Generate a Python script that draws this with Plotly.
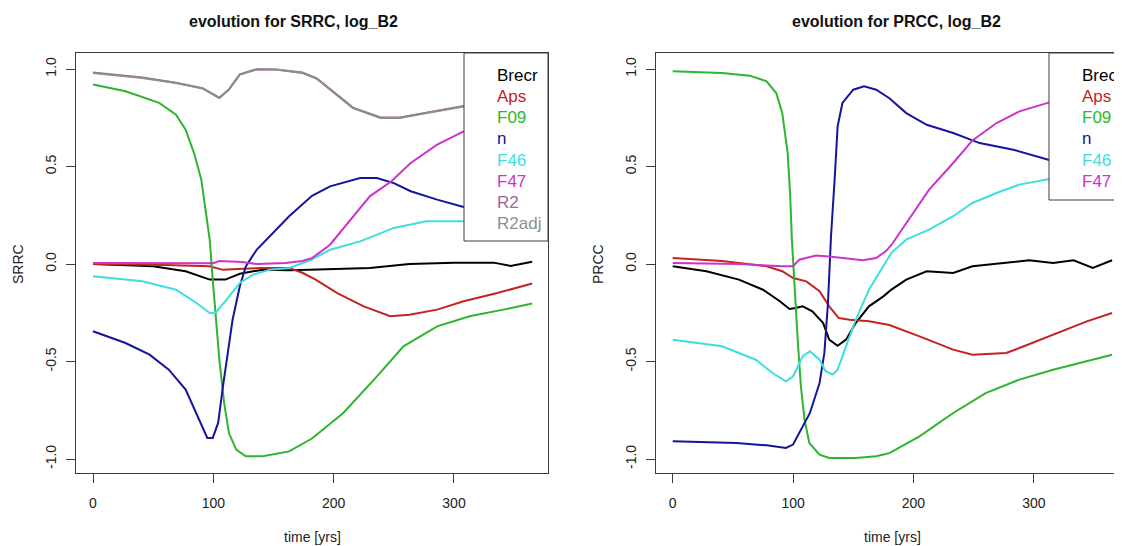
import plotly.graph_objects as go

# page body has an 8px margin: work in reference pixel coords and shift by 8
OFF = 8
W, H = 1122, 546 - OFF

# ---------------- data: SRRC (left panel) ----------------
srrc_brecr_t = [0, 50, 77, 97, 110, 122, 141, 163, 180, 200, 230, 263, 300, 333, 347, 365]
srrc_brecr_v = [0.0, -0.012, -0.037, -0.08, -0.08, -0.05, -0.029, -0.032, -0.029, -0.025, -0.021, 0.0, 0.007, 0.007, -0.01, 0.012]

srrc_aps_t = [0, 60, 97, 108, 120, 141, 163, 174, 185, 203, 225, 247, 263, 286, 308, 336, 365]
srrc_aps_v = [0.0, -0.005, -0.012, -0.03, -0.025, -0.02, -0.02, -0.045, -0.08, -0.149, -0.217, -0.268, -0.26, -0.234, -0.191, -0.149, -0.10]

srrc_f09_t = [0, 27, 55, 69, 77, 84, 90, 94, 97, 99.5, 102, 105, 109, 113, 119, 127, 141, 163, 182, 208, 236, 258, 286, 313, 341, 365]
srrc_f09_v = [0.92, 0.886, 0.826, 0.766, 0.689, 0.569, 0.432, 0.26, 0.125, -0.08, -0.286, -0.49, -0.713, -0.867, -0.952, -0.986, -0.986, -0.961, -0.895, -0.764, -0.576, -0.422, -0.32, -0.268, -0.234, -0.203]

srrc_n_t = [0, 27, 47, 63, 77, 88, 95, 99.5, 104, 108, 112, 116, 122, 127, 136, 147, 163, 182, 197, 222, 236, 250, 264, 286, 308, 335, 365]
srrc_n_v = [-0.345, -0.405, -0.465, -0.542, -0.644, -0.798, -0.892, -0.892, -0.815, -0.627, -0.456, -0.286, -0.114, -0.012, 0.073, 0.142, 0.245, 0.35, 0.398, 0.441, 0.441, 0.415, 0.373, 0.33, 0.292, 0.27, 0.25]

srrc_f46_t = [0, 41, 69, 86, 97, 102, 111, 122, 133, 147, 163, 180, 197, 222, 250, 277, 308, 335, 365]
srrc_f46_v = [-0.063, -0.089, -0.132, -0.2, -0.251, -0.25, -0.183, -0.097, -0.055, -0.029, -0.02, 0.018, 0.073, 0.116, 0.185, 0.219, 0.219, 0.225, 0.23]

srrc_f47_t = [0, 50, 90, 100, 105, 124, 136, 160, 174, 182, 197, 214, 230, 248, 264, 286, 308, 335, 365]
srrc_f47_v = [0.005, 0.005, 0.005, 0.004, 0.015, 0.01, 0.0, 0.005, 0.015, 0.03, 0.099, 0.227, 0.347, 0.424, 0.518, 0.612, 0.68, 0.74, 0.78]

srrc_r2_t = [0, 41, 69, 91, 105, 113, 122, 136, 152, 174, 186, 197, 216, 239, 255, 277, 308, 335, 365]
srrc_r2_v = [0.982, 0.956, 0.930, 0.902, 0.853, 0.896, 0.973, 0.999, 0.998, 0.982, 0.952, 0.896, 0.802, 0.751, 0.751, 0.776, 0.810, 0.822, 0.832]

srrc_r2adj_t = [0, 41, 69, 91, 105, 113, 122, 136, 152, 174, 186, 197, 216, 239, 255, 277, 308, 335, 365]
srrc_r2adj_v = [0.98, 0.954, 0.928, 0.90, 0.851, 0.894, 0.971, 0.998, 0.997, 0.98, 0.95, 0.894, 0.80, 0.749, 0.749, 0.774, 0.808, 0.82, 0.83]

# ---------------- data: PRCC (right panel) ----------------
prcc_brecr_t = [0, 28, 55, 75, 89, 97, 102, 108, 116, 125, 130, 137, 144, 152, 163, 175, 182, 194, 211, 233, 249, 274, 296, 316, 333, 349, 365]
prcc_brecr_v = [-0.012, -0.037, -0.08, -0.132, -0.191, -0.231, -0.226, -0.217, -0.243, -0.303, -0.388, -0.419, -0.388, -0.303, -0.217, -0.166, -0.13, -0.08, -0.037, -0.046, -0.012, 0.005, 0.019, 0.005, 0.019, -0.02, 0.019]

prcc_aps_t = [0, 41, 78, 91, 100, 111, 122, 130, 138, 147, 163, 180, 205, 233, 249, 277, 288, 316, 344, 365]
prcc_aps_v = [0.031, 0.015, -0.012, -0.037, -0.072, -0.089, -0.14, -0.217, -0.277, -0.286, -0.294, -0.313, -0.371, -0.439, -0.465, -0.456, -0.431, -0.362, -0.294, -0.251]

prcc_f09_t = [0, 41, 64, 78, 86, 91, 95.5, 97.5, 99, 101, 104, 106.5, 109.5, 113.5, 122, 130, 152, 169, 180, 205, 233, 260, 288, 316, 344, 365]
prcc_f09_v = [0.988, 0.98, 0.966, 0.937, 0.877, 0.775, 0.569, 0.364, 0.125, -0.114, -0.405, -0.627, -0.798, -0.918, -0.978, -0.995, -0.995, -0.986, -0.97, -0.884, -0.764, -0.662, -0.593, -0.542, -0.499, -0.465]

prcc_n_t = [0, 53, 78, 94, 100, 105, 114, 122, 126, 129, 131.5, 134.5, 137, 141, 150, 159, 169, 180, 194, 211, 233, 255, 283, 312, 340, 365]
prcc_n_v = [-0.909, -0.918, -0.93, -0.943, -0.926, -0.867, -0.764, -0.61, -0.456, -0.199, 0.142, 0.432, 0.706, 0.826, 0.894, 0.911, 0.894, 0.85, 0.774, 0.714, 0.672, 0.62, 0.586, 0.535, 0.51, 0.49]

prcc_f46_t = [0, 41, 69, 83, 94, 100, 108, 114, 122, 127, 133, 137, 144, 152, 163, 175, 182, 194, 213, 233, 249, 269, 288, 313, 340, 365]
prcc_f46_v = [-0.388, -0.422, -0.491, -0.559, -0.602, -0.577, -0.473, -0.448, -0.491, -0.55, -0.567, -0.542, -0.422, -0.286, -0.132, -0.012, 0.06, 0.125, 0.176, 0.245, 0.313, 0.364, 0.407, 0.436, 0.455, 0.47]

prcc_f47_t = [0, 55, 91, 100, 105, 119, 130, 141, 158, 169, 177, 182, 194, 213, 233, 249, 269, 288, 313, 340, 365]
prcc_f47_v = [0.005, 0.0, -0.012, -0.012, 0.022, 0.043, 0.039, 0.031, 0.019, 0.031, 0.065, 0.1, 0.21, 0.381, 0.518, 0.634, 0.723, 0.783, 0.829, 0.86, 0.88]

# labels / styling
x_ticks = [0, 100, 200, 300]
y_ticks = [-1.0, -0.5, 0.0, 0.5, 1.0]
y_tick_text = ["-1.0", "-0.5", "0.0", "0.5", "1.0"]

colors = {
    "Brecr": "#000000",
    "Aps": "#c42323",
    "F09": "#2eb52e",
    "n": "#15159a",
    "F46": "#3fdede",
    "F47": "#cc33cc",
    "R2": "#a0649b",
    "R2adj": "#8e8c8d",
}

left_series = [
    ("Brecr", srrc_brecr_t, srrc_brecr_v),
    ("Aps", srrc_aps_t, srrc_aps_v),
    ("F09", srrc_f09_t, srrc_f09_v),
    ("n", srrc_n_t, srrc_n_v),
    ("F46", srrc_f46_t, srrc_f46_v),
    ("F47", srrc_f47_t, srrc_f47_v),
    ("R2", srrc_r2_t, srrc_r2_v),
    ("R2adj", srrc_r2adj_t, srrc_r2adj_v),
]
right_series = [
    ("Brecr", prcc_brecr_t, prcc_brecr_v),
    ("Aps", prcc_aps_t, prcc_aps_v),
    ("F09", prcc_f09_t, prcc_f09_v),
    ("n", prcc_n_t, prcc_n_v),
    ("F46", prcc_f46_t, prcc_f46_v),
    ("F47", prcc_f47_t, prcc_f47_v),
]

fig = go.Figure()
for name, t, v in left_series:
    fig.add_trace(go.Scatter(x=t, y=v, xaxis="x", yaxis="y", mode="lines", name=name,
                             line=dict(color=colors[name], width=2), showlegend=False,
                             hoverinfo="skip"))
for name, t, v in right_series:
    fig.add_trace(go.Scatter(x=t, y=v, xaxis="x2", yaxis="y2", mode="lines", name=name,
                             line=dict(color=colors[name], width=2), showlegend=False,
                             hoverinfo="skip"))


def px(p):
    return (p - OFF) / W


def py(p):
    return 1 - (p - OFF) / H


FRAME = "#3c3c3c"
FONT = "Liberation Sans, Arial, sans-serif"

axis_common = dict(showline=True, mirror=True, linecolor=FRAME, linewidth=1,
                   showgrid=False, zeroline=False, ticks="outside", ticklen=9,
                   tickcolor=FRAME, tickwidth=1,
                   tickfont=dict(family=FONT, size=14, color="#222222"))

y_top, y_bot = 53, 473
y_range = [-(y_bot - 264) / 195, (264 - y_top) / 195]

fig.update_layout(
    width=W, height=H, autosize=False,
    margin=dict(l=0, r=0, t=0, b=0, pad=0),
    paper_bgcolor="white", plot_bgcolor="white",
    xaxis=dict(domain=[px(76), px(548)], range=[(76 - 93) / 1.2033, (548 - 93) / 1.2033],
               tickvals=x_ticks, anchor="y", ticklabelstandoff=8, **axis_common),
    yaxis=dict(domain=[py(y_bot), py(y_top)], range=y_range, tickvals=y_ticks,
               ticktext=y_tick_text, tickangle=-90, anchor="x", ticklabelstandoff=4,
               **axis_common),
    xaxis2=dict(domain=[px(656), px(1122)], range=[(656 - 672.7) / 1.2038, (1122 - 672.7) / 1.2038],
                tickvals=x_ticks, anchor="y2", ticklabelstandoff=8, **axis_common),
    yaxis2=dict(domain=[py(y_bot), py(y_top)], range=y_range, tickvals=y_ticks,
                ticktext=y_tick_text, tickangle=-90, anchor="x2", ticklabelstandoff=4,
                **axis_common),
    font=dict(family=FONT),
)

shapes = [
    dict(type="rect", xref="paper", yref="paper", x0=px(464), x1=px(548), y0=py(241), y1=py(y_top),
         fillcolor="white", line=dict(color=FRAME, width=1), layer="above"),
    dict(type="rect", xref="paper", yref="paper", x0=px(1049), x1=px(1135), y0=py(200), y1=py(y_top),
         fillcolor="white", line=dict(color=FRAME, width=1), layer="above"),
]

annotations = []
# titles
annotations.append(dict(text="<b>evolution for SRRC, log_B2</b>", x=px(293), y=py(21), xref="paper", yref="paper",
                        xanchor="center", yanchor="middle", showarrow=False,
                        font=dict(family=FONT, size=16, color="#111111")))
annotations.append(dict(text="<b>evolution for PRCC, log_B2</b>", x=px(896), y=py(21), xref="paper", yref="paper",
                        xanchor="center", yanchor="middle", showarrow=False,
                        font=dict(family=FONT, size=16, color="#111111")))
# axis titles
for cx in (px(312), px(892)):
    annotations.append(dict(text="time [yrs]", x=cx, y=py(537), xref="paper", yref="paper",
                            xanchor="center", yanchor="middle", showarrow=False,
                            font=dict(family=FONT, size=14, color="#222222")))
annotations.append(dict(text="SRRC", x=px(18), y=py(264), xref="paper", yref="paper", textangle=-90,
                        xanchor="center", yanchor="middle", showarrow=False,
                        font=dict(family=FONT, size=14, color="#222222")))
annotations.append(dict(text="PRCC", x=px(598), y=py(264), xref="paper", yref="paper", textangle=-90,
                        xanchor="center", yanchor="middle", showarrow=False,
                        font=dict(family=FONT, size=14, color="#222222")))
# legends (text-only, as in the original)
for i, (name, _, _) in enumerate(left_series):
    annotations.append(dict(text=name, x=px(495), y=py(75.7 + i * 21.1), xref="paper", yref="paper",
                            xanchor="left", yanchor="middle", showarrow=False,
                            font=dict(family=FONT, size=17, color=colors[name])))
for i, (name, _, _) in enumerate(right_series):
    annotations.append(dict(text=name, x=px(1080), y=py(75.7 + i * 21.1), xref="paper", yref="paper",
                            xanchor="left", yanchor="middle", showarrow=False,
                            font=dict(family=FONT, size=17, color=colors[name])))

fig.update_layout(shapes=shapes, annotations=annotations)

fig.write_html("out.html")
